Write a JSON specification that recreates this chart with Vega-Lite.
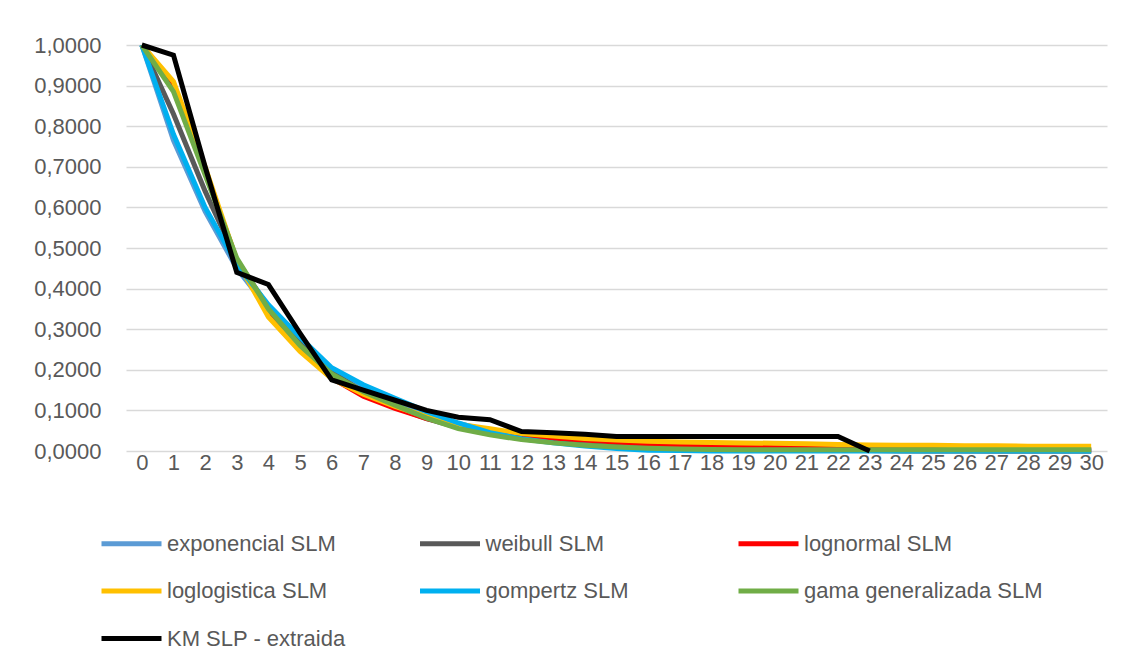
{
  "$schema": "https://vega.github.io/schema/vega-lite/v6.json",
  "autosize": {"type": "none"},
  "padding": {"left": 126, "top": 45, "right": 19, "bottom": 217},
  "width": 981,
  "height": 406,
  "background": "white",
  "config": {
    "view": {"stroke": null},
    "font": "Liberation Sans"
  },
  "data": {
    "values": [
      {"t":0,"serie":"exponencial SLM","s":1},{"t":1,"serie":"exponencial SLM","s":0.765},{"t":2,"serie":"exponencial SLM","s":0.59},{"t":3,"serie":"exponencial SLM","s":0.45},{"t":4,"serie":"exponencial SLM","s":0.35},{"t":5,"serie":"exponencial SLM","s":0.265},{"t":6,"serie":"exponencial SLM","s":0.2},{"t":7,"serie":"exponencial SLM","s":0.155},{"t":8,"serie":"exponencial SLM","s":0.118},{"t":9,"serie":"exponencial SLM","s":0.09},{"t":10,"serie":"exponencial SLM","s":0.068},{"t":11,"serie":"exponencial SLM","s":0.05},{"t":12,"serie":"exponencial SLM","s":0.037},{"t":13,"serie":"exponencial SLM","s":0.028},{"t":14,"serie":"exponencial SLM","s":0.02},{"t":15,"serie":"exponencial SLM","s":0.015},{"t":16,"serie":"exponencial SLM","s":0.011},{"t":17,"serie":"exponencial SLM","s":0.008},{"t":18,"serie":"exponencial SLM","s":0.006},{"t":19,"serie":"exponencial SLM","s":0.004},{"t":20,"serie":"exponencial SLM","s":0.003},{"t":21,"serie":"exponencial SLM","s":0.002},{"t":22,"serie":"exponencial SLM","s":0.0015},{"t":23,"serie":"exponencial SLM","s":0.001},{"t":24,"serie":"exponencial SLM","s":0.001},{"t":25,"serie":"exponencial SLM","s":0.0005},{"t":26,"serie":"exponencial SLM","s":0.0005},{"t":27,"serie":"exponencial SLM","s":0},{"t":28,"serie":"exponencial SLM","s":0},{"t":29,"serie":"exponencial SLM","s":0},{"t":30,"serie":"exponencial SLM","s":0},
      {"t":0,"serie":"weibull SLM","s":1},{"t":1,"serie":"weibull SLM","s":0.83},{"t":2,"serie":"weibull SLM","s":0.64},{"t":3,"serie":"weibull SLM","s":0.47},{"t":4,"serie":"weibull SLM","s":0.355},{"t":5,"serie":"weibull SLM","s":0.265},{"t":6,"serie":"weibull SLM","s":0.195},{"t":7,"serie":"weibull SLM","s":0.145},{"t":8,"serie":"weibull SLM","s":0.108},{"t":9,"serie":"weibull SLM","s":0.08},{"t":10,"serie":"weibull SLM","s":0.058},{"t":11,"serie":"weibull SLM","s":0.042},{"t":12,"serie":"weibull SLM","s":0.03},{"t":13,"serie":"weibull SLM","s":0.022},{"t":14,"serie":"weibull SLM","s":0.015},{"t":15,"serie":"weibull SLM","s":0.011},{"t":16,"serie":"weibull SLM","s":0.008},{"t":17,"serie":"weibull SLM","s":0.005},{"t":18,"serie":"weibull SLM","s":0.004},{"t":19,"serie":"weibull SLM","s":0.003},{"t":20,"serie":"weibull SLM","s":0.002},{"t":21,"serie":"weibull SLM","s":0.001},{"t":22,"serie":"weibull SLM","s":0.001},{"t":23,"serie":"weibull SLM","s":0.001},{"t":24,"serie":"weibull SLM","s":0},{"t":25,"serie":"weibull SLM","s":0},{"t":26,"serie":"weibull SLM","s":0},{"t":27,"serie":"weibull SLM","s":0},{"t":28,"serie":"weibull SLM","s":0},{"t":29,"serie":"weibull SLM","s":0},{"t":30,"serie":"weibull SLM","s":0},
      {"t":0,"serie":"lognormal SLM","s":1},{"t":1,"serie":"lognormal SLM","s":0.905},{"t":2,"serie":"lognormal SLM","s":0.69},{"t":3,"serie":"lognormal SLM","s":0.47},{"t":4,"serie":"lognormal SLM","s":0.34},{"t":5,"serie":"lognormal SLM","s":0.25},{"t":6,"serie":"lognormal SLM","s":0.18},{"t":7,"serie":"lognormal SLM","s":0.135},{"t":8,"serie":"lognormal SLM","s":0.105},{"t":9,"serie":"lognormal SLM","s":0.08},{"t":10,"serie":"lognormal SLM","s":0.062},{"t":11,"serie":"lognormal SLM","s":0.048},{"t":12,"serie":"lognormal SLM","s":0.038},{"t":13,"serie":"lognormal SLM","s":0.032},{"t":14,"serie":"lognormal SLM","s":0.027},{"t":15,"serie":"lognormal SLM","s":0.022},{"t":16,"serie":"lognormal SLM","s":0.018},{"t":17,"serie":"lognormal SLM","s":0.015},{"t":18,"serie":"lognormal SLM","s":0.013},{"t":19,"serie":"lognormal SLM","s":0.011},{"t":20,"serie":"lognormal SLM","s":0.009},{"t":21,"serie":"lognormal SLM","s":0.008},{"t":22,"serie":"lognormal SLM","s":0.007},{"t":23,"serie":"lognormal SLM","s":0.006},{"t":24,"serie":"lognormal SLM","s":0.005},{"t":25,"serie":"lognormal SLM","s":0.005},{"t":26,"serie":"lognormal SLM","s":0.004},{"t":27,"serie":"lognormal SLM","s":0.004},{"t":28,"serie":"lognormal SLM","s":0.003},{"t":29,"serie":"lognormal SLM","s":0.003},{"t":30,"serie":"lognormal SLM","s":0.003},
      {"t":0,"serie":"loglogistica SLM","s":1},{"t":1,"serie":"loglogistica SLM","s":0.91},{"t":2,"serie":"loglogistica SLM","s":0.7},{"t":3,"serie":"loglogistica SLM","s":0.47},{"t":4,"serie":"loglogistica SLM","s":0.33},{"t":5,"serie":"loglogistica SLM","s":0.245},{"t":6,"serie":"loglogistica SLM","s":0.178},{"t":7,"serie":"loglogistica SLM","s":0.14},{"t":8,"serie":"loglogistica SLM","s":0.11},{"t":9,"serie":"loglogistica SLM","s":0.085},{"t":10,"serie":"loglogistica SLM","s":0.066},{"t":11,"serie":"loglogistica SLM","s":0.055},{"t":12,"serie":"loglogistica SLM","s":0.043},{"t":13,"serie":"loglogistica SLM","s":0.037},{"t":14,"serie":"loglogistica SLM","s":0.031},{"t":15,"serie":"loglogistica SLM","s":0.027},{"t":16,"serie":"loglogistica SLM","s":0.024},{"t":17,"serie":"loglogistica SLM","s":0.022},{"t":18,"serie":"loglogistica SLM","s":0.021},{"t":19,"serie":"loglogistica SLM","s":0.02},{"t":20,"serie":"loglogistica SLM","s":0.019},{"t":21,"serie":"loglogistica SLM","s":0.018},{"t":22,"serie":"loglogistica SLM","s":0.016},{"t":23,"serie":"loglogistica SLM","s":0.015},{"t":24,"serie":"loglogistica SLM","s":0.014},{"t":25,"serie":"loglogistica SLM","s":0.014},{"t":26,"serie":"loglogistica SLM","s":0.013},{"t":27,"serie":"loglogistica SLM","s":0.013},{"t":28,"serie":"loglogistica SLM","s":0.012},{"t":29,"serie":"loglogistica SLM","s":0.012},{"t":30,"serie":"loglogistica SLM","s":0.012},
      {"t":0,"serie":"gompertz SLM","s":1},{"t":1,"serie":"gompertz SLM","s":0.78},{"t":2,"serie":"gompertz SLM","s":0.6},{"t":3,"serie":"gompertz SLM","s":0.46},{"t":4,"serie":"gompertz SLM","s":0.36},{"t":5,"serie":"gompertz SLM","s":0.28},{"t":6,"serie":"gompertz SLM","s":0.205},{"t":7,"serie":"gompertz SLM","s":0.163},{"t":8,"serie":"gompertz SLM","s":0.13},{"t":9,"serie":"gompertz SLM","s":0.097},{"t":10,"serie":"gompertz SLM","s":0.069},{"t":11,"serie":"gompertz SLM","s":0.045},{"t":12,"serie":"gompertz SLM","s":0.03},{"t":13,"serie":"gompertz SLM","s":0.02},{"t":14,"serie":"gompertz SLM","s":0.012},{"t":15,"serie":"gompertz SLM","s":0.006},{"t":16,"serie":"gompertz SLM","s":0.002},{"t":17,"serie":"gompertz SLM","s":0.001},{"t":18,"serie":"gompertz SLM","s":0},{"t":19,"serie":"gompertz SLM","s":0},{"t":20,"serie":"gompertz SLM","s":0},{"t":21,"serie":"gompertz SLM","s":0},{"t":22,"serie":"gompertz SLM","s":0},{"t":23,"serie":"gompertz SLM","s":0},{"t":24,"serie":"gompertz SLM","s":0},{"t":25,"serie":"gompertz SLM","s":0},{"t":26,"serie":"gompertz SLM","s":0},{"t":27,"serie":"gompertz SLM","s":0},{"t":28,"serie":"gompertz SLM","s":0},{"t":29,"serie":"gompertz SLM","s":0},{"t":30,"serie":"gompertz SLM","s":0},
      {"t":0,"serie":"gama generalizada SLM","s":1},{"t":1,"serie":"gama generalizada SLM","s":0.885},{"t":2,"serie":"gama generalizada SLM","s":0.68},{"t":3,"serie":"gama generalizada SLM","s":0.475},{"t":4,"serie":"gama generalizada SLM","s":0.35},{"t":5,"serie":"gama generalizada SLM","s":0.26},{"t":6,"serie":"gama generalizada SLM","s":0.19},{"t":7,"serie":"gama generalizada SLM","s":0.146},{"t":8,"serie":"gama generalizada SLM","s":0.113},{"t":9,"serie":"gama generalizada SLM","s":0.081},{"t":10,"serie":"gama generalizada SLM","s":0.055},{"t":11,"serie":"gama generalizada SLM","s":0.04},{"t":12,"serie":"gama generalizada SLM","s":0.028},{"t":13,"serie":"gama generalizada SLM","s":0.02},{"t":14,"serie":"gama generalizada SLM","s":0.014},{"t":15,"serie":"gama generalizada SLM","s":0.01},{"t":16,"serie":"gama generalizada SLM","s":0.007},{"t":17,"serie":"gama generalizada SLM","s":0.005},{"t":18,"serie":"gama generalizada SLM","s":0.004},{"t":19,"serie":"gama generalizada SLM","s":0.003},{"t":20,"serie":"gama generalizada SLM","s":0.003},{"t":21,"serie":"gama generalizada SLM","s":0.003},{"t":22,"serie":"gama generalizada SLM","s":0.003},{"t":23,"serie":"gama generalizada SLM","s":0.003},{"t":24,"serie":"gama generalizada SLM","s":0.003},{"t":25,"serie":"gama generalizada SLM","s":0.003},{"t":26,"serie":"gama generalizada SLM","s":0.003},{"t":27,"serie":"gama generalizada SLM","s":0.003},{"t":28,"serie":"gama generalizada SLM","s":0.003},{"t":29,"serie":"gama generalizada SLM","s":0.003},{"t":30,"serie":"gama generalizada SLM","s":0.003},
      {"t":0,"serie":"KM SLP  - extraida","s":1},{"t":1,"serie":"KM SLP  - extraida","s":0.975},{"t":2,"serie":"KM SLP  - extraida","s":0.7},{"t":3,"serie":"KM SLP  - extraida","s":0.44},{"t":4,"serie":"KM SLP  - extraida","s":0.41},{"t":5,"serie":"KM SLP  - extraida","s":0.29},{"t":6,"serie":"KM SLP  - extraida","s":0.175},{"t":7,"serie":"KM SLP  - extraida","s":0.15},{"t":8,"serie":"KM SLP  - extraida","s":0.125},{"t":9,"serie":"KM SLP  - extraida","s":0.1},{"t":10,"serie":"KM SLP  - extraida","s":0.083},{"t":11,"serie":"KM SLP  - extraida","s":0.077},{"t":12,"serie":"KM SLP  - extraida","s":0.048},{"t":13,"serie":"KM SLP  - extraida","s":0.045},{"t":14,"serie":"KM SLP  - extraida","s":0.041},{"t":15,"serie":"KM SLP  - extraida","s":0.036},{"t":16,"serie":"KM SLP  - extraida","s":0.036},{"t":17,"serie":"KM SLP  - extraida","s":0.036},{"t":18,"serie":"KM SLP  - extraida","s":0.036},{"t":19,"serie":"KM SLP  - extraida","s":0.036},{"t":20,"serie":"KM SLP  - extraida","s":0.036},{"t":21,"serie":"KM SLP  - extraida","s":0.036},{"t":22,"serie":"KM SLP  - extraida","s":0.036},{"t":23,"serie":"KM SLP  - extraida","s":0}
    ]
  },
  "mark": {"type": "line", "strokeWidth": 5},
  "encoding": {
    "x": {
      "field": "t", "type": "quantitative",
      "scale": {"domain": [-0.5, 30.5], "nice": false, "zero": false},
      "axis": {
        "values": [0,1,2,3,4,5,6,7,8,9,10,11,12,13,14,15,16,17,18,19,20,21,22,23,24,25,26,27,28,29,30],
        "title": null, "grid": false, "domain": false, "ticks": false,
        "labelFontSize": 22, "labelColor": "#595959", "labelPadding": 1,
        "labelFlush": false, "labelOverlap": false, "format": "d"
      }
    },
    "y": {
      "field": "s", "type": "quantitative",
      "scale": {"domain": [0, 1], "nice": false},
      "axis": {
        "values": [0,0.1,0.2,0.3,0.4,0.5,0.6,0.7,0.8,0.9,1],
        "title": null, "domain": false, "ticks": false,
        "grid": true, "gridColor": "#D9D9D9", "gridWidth": 1.5,
        "labelFontSize": 22, "labelColor": "#595959", "labelPadding": 25,
        "labelExpr": "replace(format(datum.value, '.4f'), '.', ',')"
      }
    },
    "color": {
      "field": "serie", "type": "nominal",
      "scale": {
        "domain": ["exponencial SLM", "weibull SLM", "lognormal SLM", "loglogistica SLM", "gompertz SLM", "gama generalizada SLM", "KM SLP  - extraida"],
        "range": ["#5B9BD5", "#595959", "#FF0000", "#FFC000", "#00B0F0", "#70AD47", "#000000"]
      },
      "legend": {
        "title": null, "orient": "none", "legendX": -27, "legendY": 466,
        "direction": "horizontal", "columns": 3, "gridAlign": "all",
        "symbolType": "stroke", "symbolSize": 3600, "symbolStrokeWidth": 5,
        "labelFontSize": 22, "labelColor": "#595959", "labelOffset": 3,
        "labelLimit": 400, "columnPadding": 3.5, "rowPadding": 3.5, "padding": 0
      }
    }
  }
}
